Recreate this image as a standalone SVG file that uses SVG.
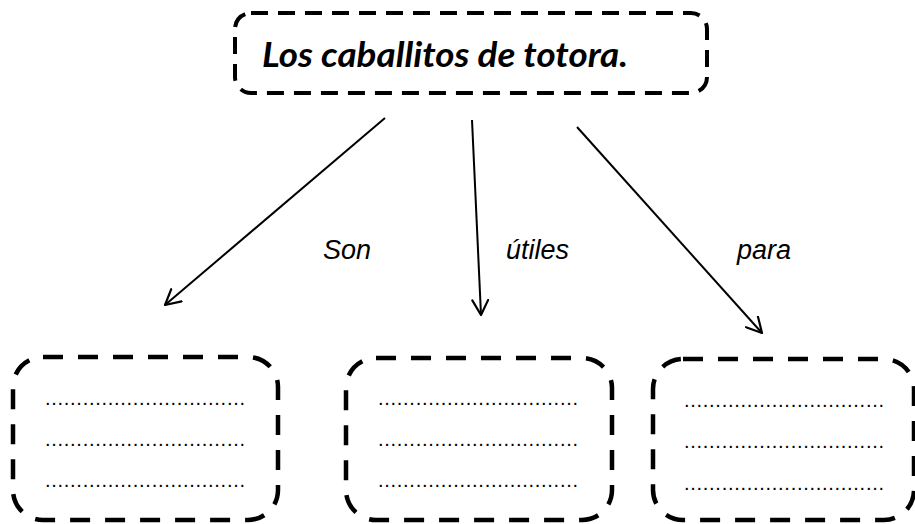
<svg xmlns="http://www.w3.org/2000/svg" width="915" height="524" viewBox="0 0 915 524">
<defs>
<style>
.top{fill:none;stroke:#000;stroke-width:4;stroke-dasharray:17 10}
.box{fill:none;stroke:#000;stroke-width:4.5;stroke-dasharray:20 15}
.title{font-family:Lato,"Open Sans","Liberation Sans",sans-serif;font-weight:bold;font-style:italic;font-size:34px;fill:#000}
.lbl{font-family:"Liberation Sans",Arial,sans-serif;font-style:italic;font-size:27px;fill:#000}
.dots{font-family:"Liberation Sans",Arial,sans-serif;font-size:20px;fill:#000}
.conn{stroke:#000;stroke-width:2;fill:none;marker-end:url(#arr)}
</style>
<marker id="arr" viewBox="-16 -9 18 18" refX="0" refY="0" markerWidth="18" markerHeight="18" markerUnits="userSpaceOnUse" orient="auto">
<path d="M-15,-8 L0,0 L-15,8" fill="none" stroke="#000" stroke-width="2.2" stroke-linecap="round" stroke-linejoin="round"/>
</marker>
</defs>
<g id="title-node">
<rect class="top" x="235" y="13" width="472" height="80" rx="16" ry="16"/>
<text class="title" x="262" y="67" textLength="366" lengthAdjust="spacingAndGlyphs">Los caballitos de totora.</text>
</g>
<g id="connectors">
<line class="conn" x1="385" y1="118" x2="165" y2="305"/>
<line class="conn" x1="472" y1="120" x2="481" y2="315"/>
<line class="conn" x1="577" y1="127" x2="762" y2="333"/>
<text class="lbl" x="323" y="259">Son</text>
<text class="lbl" x="506" y="259">útiles</text>
<text class="lbl" x="737" y="259">para</text>
</g>
<g id="box-1">
<rect class="box" x="13" y="357" width="265" height="163" rx="30" ry="30"/>
<text class="dots" x="45" y="405" textLength="200" lengthAdjust="spacing">................................</text>
<text class="dots" x="45" y="446" textLength="200" lengthAdjust="spacing">................................</text>
<text class="dots" x="45" y="487" textLength="200" lengthAdjust="spacing">................................</text>
</g>
<g id="box-2">
<rect class="box" x="346" y="358" width="266" height="162" rx="30" ry="30"/>
<text class="dots" x="378" y="405" textLength="200" lengthAdjust="spacing">................................</text>
<text class="dots" x="378" y="446" textLength="200" lengthAdjust="spacing">................................</text>
<text class="dots" x="378" y="487" textLength="200" lengthAdjust="spacing">................................</text>
</g>
<g id="box-3">
<rect class="box" x="653" y="359" width="261" height="161" rx="30" ry="30"/>
<text class="dots" x="684" y="407" textLength="200" lengthAdjust="spacing">................................</text>
<text class="dots" x="684" y="448" textLength="200" lengthAdjust="spacing">................................</text>
<text class="dots" x="684" y="490" textLength="200" lengthAdjust="spacing">................................</text>
</g>
</svg>
